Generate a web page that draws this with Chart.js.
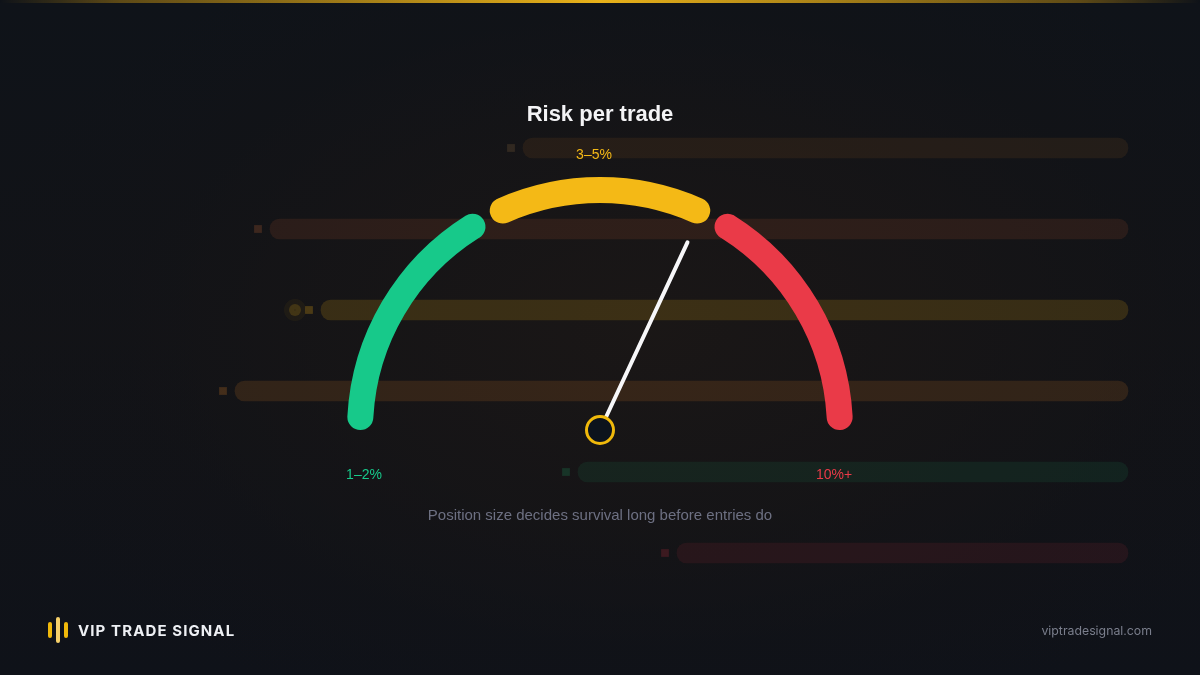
<!DOCTYPE html>
<html><head><meta charset="utf-8">
<script src="https://cdn.jsdelivr.net/npm/chart.js@4"></script>
<style>
html,body{margin:0;padding:0;width:1200px;height:675px;overflow:hidden;background:#111318;}
#stage{position:relative;width:1200px;height:675px;overflow:hidden;
 background:
  radial-gradient(ellipse 700px 420px at 650px 330px, rgba(27,23,22,0.9) 0%, rgba(23,21,22,0.75) 45%, rgba(19,19,22,0.35) 75%, rgba(17,19,24,0) 100%),
  linear-gradient(180deg, #0f1319 0%, #121317 50%, #0f1219 100%);}
.topline{position:absolute;left:0;top:0;width:1200px;height:3px;z-index:5;
 background:linear-gradient(90deg, rgba(240,185,11,0) 0%, rgba(160,120,20,0.55) 10%, #e9b21a 50%, rgba(160,120,20,0.55) 90%, rgba(240,185,11,0) 100%);}
canvas{position:absolute;left:0;top:0;}
#bg{z-index:1;}
#gauge{z-index:2;}
.txt{position:absolute;z-index:3;font-family:"Liberation Sans",Arial,Helvetica,sans-serif;white-space:nowrap;}
#title{left:0;width:1200px;top:101px;text-align:center;color:#f4f4f6;font-size:22px;font-weight:700;}
#sub{left:0;width:1200px;top:506px;text-align:center;color:#6d7082;font-size:15px;}
#brand{left:78px;top:621px;color:#eef0f4;font-size:15px;font-weight:700;letter-spacing:1.1px;font-family:Inter,"Liberation Sans",Arial,sans-serif;}
#site{right:48px;top:623px;color:#7a7e8c;font-size:12.3px;font-family:Inter,"Liberation Sans",Arial,sans-serif;}
.lb{position:absolute;z-index:3;width:4px;border-radius:2px;}
</style></head>
<body>
<div id="stage">
 <div class="topline"></div>
 <canvas id="bg" width="1200" height="675"></canvas>
 <canvas id="gauge" width="1200" height="675"></canvas>
 <div class="txt" id="title">Risk per trade</div>
 <div class="txt" id="sub">Position size decides survival long before entries do</div>
 <div class="lb" style="left:48px;top:622px;height:16px;background:#f0b90b"></div>
 <div class="lb" style="left:56px;top:617px;height:26px;background:#f6d06a"></div>
 <div class="lb" style="left:64px;top:622px;height:16px;background:#f0b90b"></div>
 <div class="txt" id="brand">VIP TRADE SIGNAL</div>
 <div class="txt" id="site">viptradesignal.com</div>
</div>
<script>
// ---- gauge data ----
const zoneLabels = ['1–2%', '3–5%', '10%+'];
const zoneSpans = [61, 54, 61];          // share of the half dial (degrees)
const zoneGap = 2;
const zoneColors = ['#17c98a', '#f4b916', '#ea3a48'];
const needleValue = 115;                 // needle position on the same dial scale

// ---- faint backdrop bars ----
const bgRows = ['r1', 'r2', 'r3', 'r4', 'r5', 'r6'];
const bgBarStart = [523, 270, 321, 235, 578, 677];
const bgBarEnd = [1128, 1128, 1128, 1128, 1128, 1128];
const bgBarColors = ['rgba(200,120,40,0.10)', 'rgba(210,100,50,0.12)', 'rgba(230,170,20,0.17)',
                     'rgba(220,130,40,0.15)', 'rgba(30,180,110,0.10)', 'rgba(220,50,70,0.10)'];
const bgMarkColors = ['rgba(200,150,90,0.16)', 'rgba(210,110,60,0.22)', 'rgba(230,170,20,0.26)',
                      'rgba(220,130,40,0.24)', 'rgba(30,180,110,0.20)', 'rgba(220,50,70,0.20)'];
const bgDotRow = 'r3';
const bgDotX = 295;

Chart.defaults.font.family = '"Liberation Sans", Arial, sans-serif';

// backdrop chart
new Chart(document.getElementById('bg'), {
  type: 'bar',
  data: {
    labels: bgRows,
    datasets: [
      {
        type: 'bar',
        data: bgRows.map((r, i) => [bgBarStart[i], bgBarEnd[i]]),
        backgroundColor: bgBarColors,
        borderRadius: 10,
        borderSkipped: false,
        barThickness: 20
      },
      {
        type: 'line',
        showLine: false,
        data: bgRows.map((r, i) => ({ x: bgBarStart[i] - 12, y: r })),
        pointStyle: 'rect',
        pointRadius: 5.5,
        pointBackgroundColor: bgMarkColors,
        pointBorderWidth: 0
      },
      {
        type: 'line',
        showLine: false,
        data: [{ x: bgDotX, y: bgDotRow }],
        pointStyle: 'circle',
        pointRadius: 6,
        pointBackgroundColor: 'rgba(230,170,20,0.18)',
        pointBorderColor: 'rgba(230,170,20,0.05)',
        pointBorderWidth: 10
      }
    ]
  },
  options: {
    indexAxis: 'y',
    responsive: false,
    animation: false,
    events: [],
    layout: { autoPadding: false, padding: { top: 107.5, bottom: 81.5, left: 0, right: 0 } },
    plugins: { legend: { display: false }, tooltip: { enabled: false } },
    scales: {
      x: { type: 'linear', min: 0, max: 1200, display: false },
      y: { type: 'category', display: false }
    }
  }
});

// gauge chart
const gaugeData = [], gaugeColors = [], gaugeLabels = [];
zoneSpans.forEach((v, i) => {
  if (i > 0) { gaugeData.push(zoneGap); gaugeColors.push('rgba(0,0,0,0)'); gaugeLabels.push(''); }
  gaugeData.push(v); gaugeColors.push(zoneColors[i]); gaugeLabels.push(zoneLabels[i]);
});

const needlePlugin = {
  id: 'needle',
  afterDatasetsDraw(chart) {
    const ctx = chart.ctx;
    const arc = chart.getDatasetMeta(0).data[0];
    const cx = arc.x, cy = arc.y;
    const rO = arc.outerRadius, rI = arc.innerRadius, rM = (rO + rI) / 2;
    const total = gaugeData.reduce((a, b) => a + b, 0);
    const a = -Math.PI + needleValue / total * Math.PI;
    const L = rI - 20;
    ctx.save();
    ctx.strokeStyle = '#f7f7f9';
    ctx.lineWidth = 4;
    ctx.lineCap = 'round';
    ctx.beginPath();
    ctx.moveTo(cx, cy);
    ctx.lineTo(cx + L * Math.cos(a), cy + L * Math.sin(a));
    ctx.stroke();
    ctx.beginPath();
    ctx.arc(cx, cy, 13.5, 0, Math.PI * 2);
    ctx.fillStyle = '#0c131c';
    ctx.fill();
    ctx.lineWidth = 3;
    ctx.strokeStyle = '#f0b90b';
    ctx.stroke();
    // zone labels
    ctx.font = '14px "Liberation Sans", Arial, sans-serif';
    ctx.textAlign = 'center';
    ctx.textBaseline = 'middle';
    ctx.fillStyle = zoneColors[0];
    ctx.fillText(zoneLabels[0], cx - rM + 4, cy + 45);
    ctx.fillStyle = zoneColors[1];
    ctx.fillText(zoneLabels[1], cx - 6, cy - rO - 22);
    ctx.fillStyle = zoneColors[2];
    ctx.fillText(zoneLabels[2], cx + rM - 6, cy + 45);
    ctx.restore();
  }
};

new Chart(document.getElementById('gauge'), {
  type: 'doughnut',
  data: {
    labels: gaugeLabels,
    datasets: [{
      data: gaugeData,
      backgroundColor: gaugeColors,
      borderWidth: 0,
      borderRadius: 13
    }]
  },
  options: {
    responsive: false,
    animation: false,
    events: [],
    rotation: -90,
    circumference: 180,
    radius: 253,
    cutout: '89.72%',
    layout: { padding: { top: 0, bottom: 68, left: 0, right: 0 } },
    plugins: { legend: { display: false }, tooltip: { enabled: false } }
  },
  plugins: [needlePlugin]
});
</script>
</body></html>
